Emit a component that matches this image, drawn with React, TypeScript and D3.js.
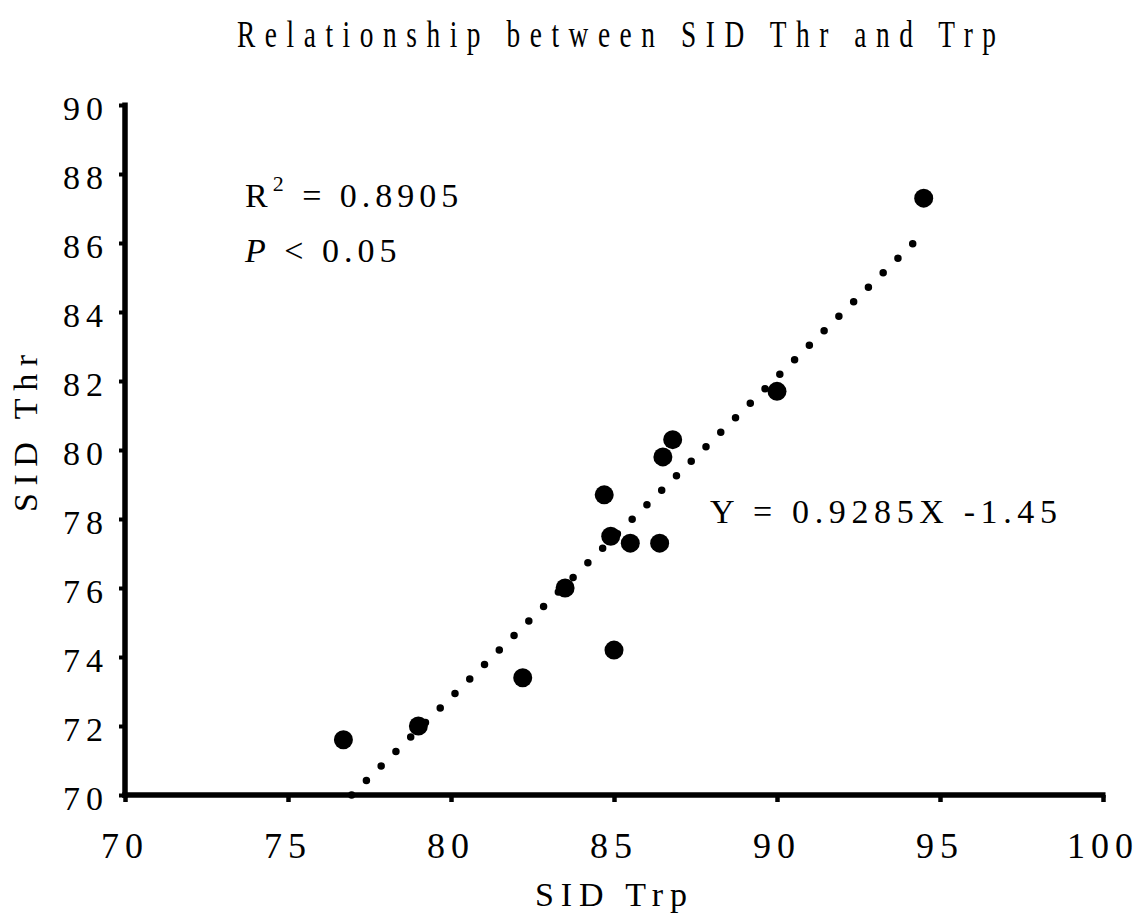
import React, { useEffect, useRef } from "react";
import * as d3 from "d3";

// SID Trp (x) and SID Thr (y)
const trpValues = [76.7, 79.0, 82.2, 83.5, 84.7, 84.9, 85.0, 85.5, 86.4, 86.5, 86.8, 90.0, 94.5];
const thrValues = [71.6, 72.0, 73.4, 76.0, 78.7, 77.5, 74.2, 77.3, 77.3, 79.8, 80.3, 81.7, 87.3];

const xTicks = [70, 75, 80, 85, 90, 95, 100];
const yTicks = [70, 72, 74, 76, 78, 80, 82, 84, 86, 88, 90];

const fitSlope = 0.9285;
const fitIntercept = -1.45;

const titleText = "Relationship between SID Thr and Trp";
const xLabel = "SID Trp";
const yLabel = "SID Thr";
const eqText = "Y = 0.9285X -1.45";

const W = 1141;
const H = 924;
const font = "'Liberation Serif', 'Times New Roman', serif";

export default function App() {
  const svgRef = useRef<SVGSVGElement>(null);

  useEffect(() => {
    const svg = d3.select(svgRef.current);
    svg.selectAll("*").remove();

    const x = d3.scaleLinear().domain([70, 100]).range([125, 1103]);
    const y = d3.scaleLinear().domain([70, 90]).range([795, 105]);

    const data = trpValues.map((v, i) => ({ x: v, y: thrValues[i] }));

    // dotted trend line, starts where it crosses the x axis
    const x0 = Math.max(d3.min(trpValues)!, (70 - fitIntercept) / fitSlope);
    const x1 = d3.max(trpValues)!;
    svg.append("line")
      .attr("x1", x(x0)).attr("y1", y(fitSlope * x0 + fitIntercept))
      .attr("x2", x(x1)).attr("y2", y(fitSlope * x1 + fitIntercept))
      .attr("stroke", "#000")
      .attr("stroke-width", 7.5)
      .attr("stroke-linecap", "round")
      .attr("stroke-dasharray", "0 20.7");

    // points
    svg.selectAll("circle.pt").data(data).enter().append("circle")
      .attr("class", "pt")
      .attr("cx", d => x(d.x))
      .attr("cy", d => y(d.y))
      .attr("r", 9.5)
      .attr("fill", "#000");

    // axes
    const yAxis = svg.append("g")
      .attr("transform", "translate(125,0)")
      .call(d3.axisLeft(y).tickValues(yTicks).tickSize(6).tickSizeOuter(0).tickFormat(() => ""));
    yAxis.select(".domain").remove();
    yAxis.selectAll(".tick line").attr("stroke", "#000").attr("stroke-width", 4);

    const xAxis = svg.append("g")
      .attr("transform", "translate(0,795)")
      .call(d3.axisBottom(x).tickValues(xTicks).tickSize(7).tickSizeOuter(0).tickFormat(() => ""));
    xAxis.select(".domain").remove();
    xAxis.selectAll(".tick line").attr("stroke", "#000").attr("stroke-width", 4.5);

    svg.append("line")
      .attr("x1", 125).attr("x2", 125)
      .attr("y1", 102.5).attr("y2", 797.7)
      .attr("stroke", "#000").attr("stroke-width", 5.5);
    svg.append("line")
      .attr("x1", 122.3).attr("x2", 1105.5)
      .attr("y1", 795).attr("y2", 795)
      .attr("stroke", "#000").attr("stroke-width", 5.5);

    // tick labels
    svg.selectAll("text.yl").data(yTicks).enter().append("text")
      .attr("class", "yl")
      .attr("x", 109)
      .attr("y", d => y(d) + 15)
      .attr("text-anchor", "end")
      .attr("font-family", font)
      .attr("font-size", 34)
      .attr("letter-spacing", 6)
      .text(d => d);

    svg.selectAll("text.xl").data(xTicks).enter().append("text")
      .attr("class", "xl")
      .attr("x", d => x(d))
      .attr("y", 858)
      .attr("text-anchor", "middle")
      .attr("font-family", font)
      .attr("font-size", 36)
      .attr("letter-spacing", 6)
      .text(d => d);

    // title (narrow, spaced-out glyphs)
    svg.append("text")
      .attr("transform", "translate(237,47) scale(0.72,1)")
      .attr("font-family", font).attr("font-size", 38)
      .attr("textLength", 759 / 0.72).attr("lengthAdjust", "spacing")
      .text(titleText);

    svg.append("text")
      .attr("x", 535).attr("y", 906)
      .attr("font-family", font).attr("font-size", 34)
      .attr("textLength", 152).attr("lengthAdjust", "spacing")
      .text(xLabel);

    svg.append("text")
      .attr("transform", "translate(37,512) rotate(-90)")
      .attr("font-family", font).attr("font-size", 34)
      .attr("textLength", 157).attr("lengthAdjust", "spacing")
      .text(yLabel);

    // annotations
    const r2 = svg.append("text")
      .attr("x", 245).attr("y", 207)
      .attr("font-family", font).attr("font-size", 34)
      .attr("letter-spacing", 5);
    r2.append("tspan").text("R");
    r2.append("tspan").attr("font-size", 22).attr("dy", -16).text("2");
    r2.append("tspan").attr("dy", 16).text(" = 0.8905");

    const p = svg.append("text")
      .attr("x", 245).attr("y", 262)
      .attr("font-family", font).attr("font-size", 34)
      .attr("letter-spacing", 5);
    p.append("tspan").attr("font-style", "italic").text("P");
    p.append("tspan").text(" < 0.05");

    svg.append("text")
      .attr("x", 710).attr("y", 523)
      .attr("font-family", font).attr("font-size", 34)
      .attr("textLength", 347).attr("lengthAdjust", "spacing")
      .text(eqText);
  }, []);

  return (
    <svg ref={svgRef} width={W} height={H} style={{ display: "block", position: "absolute", left: 0, top: 0, background: "#fff" }} />
  );
}
